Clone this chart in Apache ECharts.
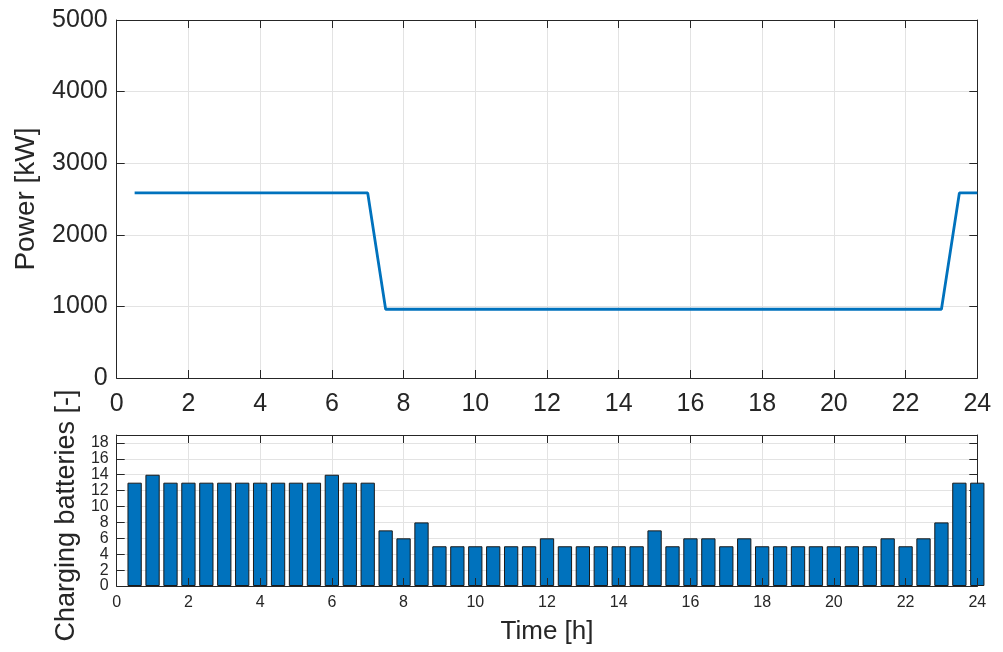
<!DOCTYPE html>
<html>
<head>
<meta charset="utf-8">
<script src="https://cdn.jsdelivr.net/npm/echarts@6/dist/echarts.min.js"></script>
<style>
html,body{margin:0;padding:0;background:#fff;}
#chart{width:1003px;height:652px;}
</style>
</head>
<body>
<div id="chart"></div>
<script>
var hours = [0.5,1,1.5,2,2.5,3,3.5,4,4.5,5,5.5,6,6.5,7,7.5,8,8.5,9,9.5,10,10.5,11,11.5,12,
             12.5,13,13.5,14,14.5,15,15.5,16,16.5,17,17.5,18,18.5,19,19.5,20,20.5,21,21.5,22,22.5,23,23.5,24];
var power = [2585,2585,2585,2585,2585,2585,2585,2585,2585,2585,2585,2585,2585,2585,
             960,960,960,960,960,960,960,960,960,960,960,960,960,960,960,960,
             960,960,960,960,960,960,960,960,960,960,960,960,960,960,960,960,
             2585,2585];
var batteries = [13,14,13,13,13,13,13,13,13,13,13,14,13,13,
                 7,6,8,5,5,5,5,5,5,6,
                 5,5,5,5,5,7,5,6,6,5,6,5,5,5,5,5,5,5,6,5,6,8,13,13];

var axisColor = '#262626';
var gridColor = '#e3e3e3';
var blue = '#0072BD';
var font = 'Liberation Sans, Arial, Helvetica, sans-serif';

function pairs(xs, ys){ return xs.map(function(x,i){ return [x, ys[i]]; }); }
function plain(v){ return String(v); }

var chart = echarts.init(document.getElementById('chart'));
var L = 116.7, R = 1003 - 977.3;

function mainX(gi, fs, margin, name, nameSize, nameGap){
  return {
    type:'value', gridIndex:gi, min:0, max:24, interval:2, position:'bottom',
    axisLine:{show:true, onZero:false, lineStyle:{color:axisColor, width:1}},
    axisTick:{show:true, inside:true, length:8, lineStyle:{color:axisColor}},
    axisLabel:{show:true, color:axisColor, fontSize:fs, fontFamily:font, margin:margin, formatter:plain},
    splitLine:{show:false},
    name:name, nameLocation:'middle', nameGap:nameGap,
    nameTextStyle:{color:axisColor, fontSize:nameSize, fontFamily:font},
    z:5
  };
}
function boxX(gi){
  return {
    type:'value', gridIndex:gi, min:0, max:24, interval:2, position:'top',
    axisLine:{show:true, onZero:false, lineStyle:{color:axisColor, width:1}},
    axisTick:{show:true, inside:true, length:8, lineStyle:{color:axisColor}},
    axisLabel:{show:false},
    splitLine:{show:true, lineStyle:{color:gridColor, width:1}},
    z:0
  };
}

var option = {
  animation:false,
  backgroundColor:'#fff',
  grid:[
    {left:L, right:R, top:20, height:358},
    {left:L, right:R, top:435, height:151}
  ],
  xAxis:[
    mainX(0, 25, 14, '', 20, 30),
    boxX(0),
    mainX(1, 16, 9, 'Time [h]', 26, 33),
    boxX(1)
  ],
  yAxis:[
    {
      type:'value', gridIndex:0, min:0, max:5000, interval:1000, position:'left',
      axisLine:{show:true, onZero:false, lineStyle:{color:axisColor}},
      axisTick:{show:true, inside:true, length:8, lineStyle:{color:axisColor}},
      axisLabel:{color:axisColor, fontSize:25, fontFamily:font, margin:9, formatter:plain},
      splitLine:{show:false},
      name:'Power [kW]', nameLocation:'middle', nameGap:76,
      nameTextStyle:{color:axisColor, fontSize:28, fontFamily:font},
      z:5
    },
    {
      type:'value', gridIndex:0, min:0, max:5000, interval:1000, position:'right',
      axisLine:{show:true, onZero:false, lineStyle:{color:axisColor}},
      axisTick:{show:true, inside:true, length:8, lineStyle:{color:axisColor}},
      axisLabel:{show:false},
      splitLine:{show:true, lineStyle:{color:gridColor}},
      z:0
    },
    {
      type:'value', gridIndex:1, min:0, max:19, interval:2, position:'left',
      axisLine:{show:true, onZero:false, lineStyle:{color:axisColor}},
      axisTick:{show:true, inside:true, length:8, lineStyle:{color:axisColor}},
      axisLabel:{color:axisColor, fontSize:16, fontFamily:font, margin:8, showMaxLabel:false,
                 formatter:function(v){ return (v % 2 === 0) ? String(v) : ''; }},
      splitLine:{show:false},
      name:'Charging batteries [-]', nameLocation:'middle', nameGap:25,
      nameTextStyle:{color:axisColor, fontSize:27, fontFamily:font, padding:[0,10,0,0]},
      z:5
    },
    {
      type:'value', gridIndex:1, min:0, max:19, interval:2, position:'right',
      axisLine:{show:true, onZero:false, lineStyle:{color:axisColor}},
      axisTick:{show:true, inside:true, length:8, lineStyle:{color:axisColor}},
      axisLabel:{show:false},
      splitLine:{show:true, lineStyle:{color:gridColor}},
      z:0
    }
  ],
  series:[
    {
      type:'line', xAxisIndex:0, yAxisIndex:0,
      data:pairs(hours, power),
      showSymbol:false, symbol:'none',
      lineStyle:{color:blue, width:2.8},
      clip:true,
      z:3
    },
    {
      type:'bar', xAxisIndex:2, yAxisIndex:2,
      data:pairs(hours, batteries),
      barWidth:14.3,
      clip:true,
      itemStyle:{color:blue, borderColor:'#1a1a1a', borderWidth:1},
      z:3
    }
  ]
};
chart.setOption(option);
</script>
</body>
</html>
